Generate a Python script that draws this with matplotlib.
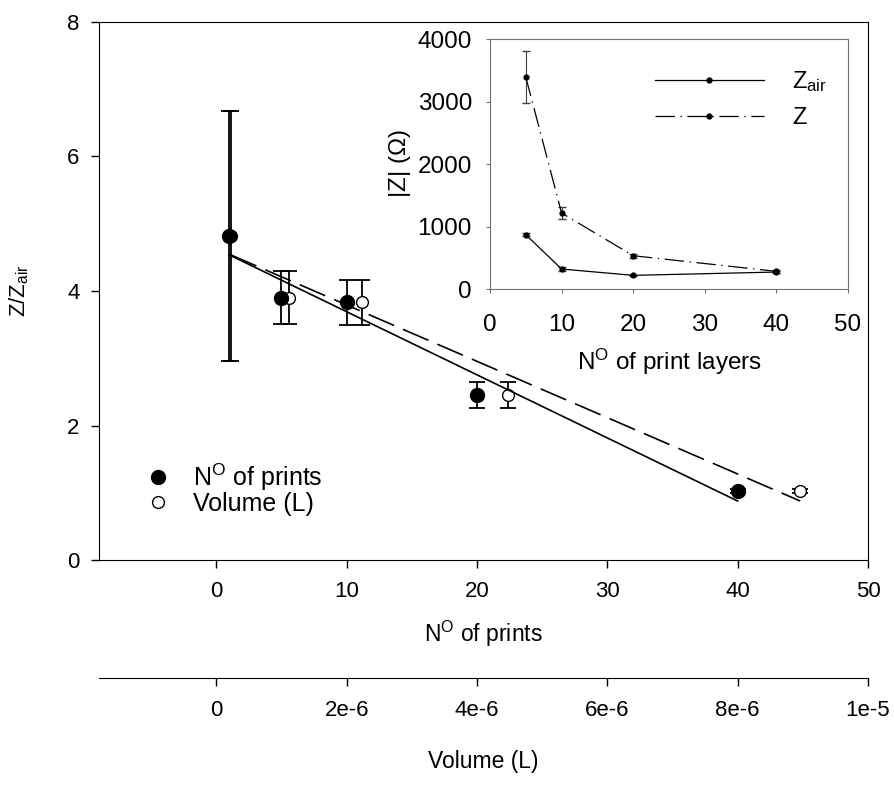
import numpy as np
import matplotlib.pyplot as plt
from matplotlib.ticker import FixedLocator, FuncFormatter

plt.rcParams['font.family'] = ['Liberation Sans', 'DejaVu Sans']
plt.rcParams['mathtext.fontset'] = 'custom'
plt.rcParams['mathtext.rm'] = 'Liberation Sans'
plt.rcParams['mathtext.it'] = 'Liberation Sans:italic'
plt.rcParams['lines.scale_dashes'] = False

# Z/Zair against number of prints and deposited volume
prints = np.array([1, 5, 10, 20, 40])
volume = np.array([2.24e-7, 1.12e-6, 2.24e-6, 4.48e-6, 8.96e-6])
ratio = np.array([4.82, 3.90, 3.83, 2.45, 1.02])
ratio_err = np.array([1.86, 0.39, 0.33, 0.19, 0.03])

# inset: impedance magnitude against print layers
layers = np.array([5, 10, 20, 40])
z_air = np.array([869, 320, 219, 272])
z_air_err = np.array([25, 25, 10, 10])
z_wet = np.array([3390, 1215, 533, 283])
z_wet_err = np.array([415, 100, 35, 20])

vol_ticks = [0, 2e-6, 4e-6, 6e-6, 8e-6, 1e-5]
vol_labels = ['0', '2e-6', '4e-6', '6e-6', '8e-6', '1e-5']

fig = plt.figure(figsize=(8.95, 7.85), dpi=100)
ax = fig.add_axes([0.1106, 0.2866, 0.8592, 0.6854])
ax2 = ax.twiny()
# filled symbols sit on top of the open ones
ax.set_zorder(ax2.get_zorder() + 1)
ax.patch.set_visible(False)

ax.errorbar(prints, ratio, yerr=ratio_err, fmt='o', color='black', ms=10,
            lw=1.3, capsize=6, capthick=1.3, zorder=3)
ax.set_xlim(-9, 50)
ax.set_ylim(0, 8)

ax2.errorbar(volume, ratio, yerr=ratio_err, fmt='o', mfc='white', mec='black',
             color='black', ms=8.5, lw=1.3, capsize=6, capthick=1.3, zorder=3)
ax2.set_xlim(-9 * 2e-7, 50 * 2e-7)

# straight-line fits for both series
k1, b1 = np.polyfit(prints, ratio, 1)
ax.plot(prints[[0, -1]], k1 * prints[[0, -1]] + b1, color='black', lw=1.2)
k2, b2 = np.polyfit(volume, ratio, 1)
ax2.plot(volume[[0, -1]], k2 * volume[[0, -1]] + b2, color='black', lw=1.2,
         dashes=(20, 7))

ax.set_xticks([0, 10, 20, 30, 40, 50])
ax.set_yticks([0, 2, 4, 6, 8])
ax.tick_params(axis='both', direction='out', length=6, width=1, labelsize=16,
               pad=9)
ax.tick_params(axis='y', pad=8)
ax.set_xlabel(r'N$^{\mathrm{O}}$ of prints', fontsize=16.5, labelpad=12)
ax.set_ylabel(r'Z/Z$_{\mathrm{air}}$', fontsize=16, labelpad=26)

ax2.xaxis.set_ticks_position('bottom')
ax2.xaxis.set_label_position('bottom')
for side in ['top', 'left', 'right']:
    ax2.spines[side].set_visible(False)
ax2.spines['bottom'].set_position(('outward', 85))
ax2.xaxis.set_major_locator(FixedLocator(vol_ticks))
ax2.xaxis.set_major_formatter(FuncFormatter(lambda v, p: vol_labels[p] if p is not None and p < len(vol_labels) else ''))
ax2.tick_params(axis='x', direction='out', length=6, width=1, labelsize=16,
                pad=10)
ax2.set_xlabel('Volume (L)', fontsize=16.5, labelpad=21)

# legend for the two main series
ax.plot([], [], 'o', color='black', ms=10, label=r'N$^{\mathrm{O}}$ of prints')
ax.plot([], [], 'o', mfc='white', mec='black', ms=8.5, label='Volume (L)')
ax.legend(loc='lower left', bbox_to_anchor=(0.03, 0.05), frameon=False,
          fontsize=18, handletextpad=0.65, labelspacing=-0.04,
          handlelength=1.5, borderpad=0.2)

# inset
ins = fig.add_axes([0.5475, 0.6318, 0.4, 0.3185])
ins.errorbar(layers, z_air, yerr=z_air_err, color='black', marker='o', ms=3.5,
             lw=0.9, capsize=3, elinewidth=0.8, ecolor='#404040')
ins.errorbar(layers, z_wet, yerr=z_wet_err, color='black', marker='o', ms=3.5,
             lw=0.9, capsize=3, elinewidth=0.8, ecolor='#404040',
             dashes=(14, 4, 1, 4))
ins.plot([], [], color='black', marker='o', ms=3.5, lw=0.9,
         label=r'Z$_{\mathrm{air}}$')
ins.plot([], [], color='black', marker='o', ms=3.5, lw=0.9,
         dashes=(14, 4, 1, 4), label='Z')
ins.set_xlim(0, 50)
ins.set_ylim(0, 4000)
ins.set_xticks([0, 10, 20, 30, 40, 50])
ins.set_yticks([0, 1000, 2000, 3000, 4000])
for s in ins.spines.values():
    s.set_color('#707070')
ins.tick_params(direction='out', length=3, color='#707070', labelsize=17.5,
                pad=10)
ins.tick_params(axis='x', pad=15)
ins.set_xlabel(r'N$^{\mathrm{O}}$ of print layers', fontsize=17.5, labelpad=8)
ins.set_ylabel(r'|Z| ($\Omega$)', fontsize=17.5, labelpad=3)
ins.legend(loc='upper right', bbox_to_anchor=(1.0, 0.965), frameon=False,
           fontsize=17, handlelength=4.6, handletextpad=1.2, labelspacing=0.55)

fig.savefig('out.png', dpi=100)
